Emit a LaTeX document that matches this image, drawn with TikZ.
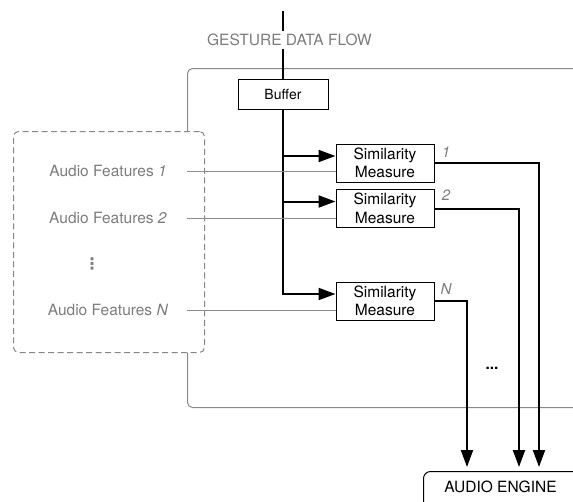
\documentclass[tikz,border=0pt]{standalone}
\usepackage{fontspec}
\setmainfont{TeX Gyre Heros}
\newfontfamily\symbolfont{DejaVu Sans}
\usetikzlibrary{arrows.meta,calc}
\pgfdeclarelayer{frame}
\pgfdeclarelayer{wires}
\pgfsetlayers{frame,wires,main}
\definecolor{labelgray}{RGB}{125,125,125}
\definecolor{framegray}{RGB}{135,135,135}
\definecolor{linegray}{RGB}{140,140,140}
\begin{document}
\begin{tikzpicture}[x=1pt,y=-1pt,
  every node/.style={font=\fontsize{15.5}{18.5}\selectfont},
  titletext/.style={text=labelgray,fill=white,inner sep=3pt},
  bufferbox/.style={draw=black,line width=1pt,fill=white,minimum width=90pt,minimum height=30pt,inner sep=1pt,font=\fontsize{14}{16}\selectfont},
  simbox/.style={draw=black,line width=1pt,fill=white,align=center,minimum width=98pt,minimum height=38pt,inner sep=1pt},
  idx/.style={text=labelgray,font=\fontsize{15}{17}\selectfont\itshape,inner sep=0pt},
  feat/.style={text=labelgray,inner sep=1pt},
  plain/.style={text=black,inner sep=1pt},
  framebox/.style={draw=framegray,line width=1pt,rounded corners=5pt,minimum width=403pt,minimum height=339pt,inner sep=0pt},
  dashbox/.style={draw=framegray,line width=1pt,dash pattern=on 6pt off 3.5pt,rounded corners=5pt,fill=white,minimum width=191pt,minimum height=221pt,inner sep=0pt},
  enginebox/.style={draw=black,line width=1pt,rounded corners=7pt,minimum width=180pt,minimum height=60pt,inner sep=0pt},
  flow/.style={draw=black,line width=2pt},
  tip/.style={-{Triangle[length=17pt,width=12pt]}},
  featline/.style={draw=linegray,line width=1pt}]
\useasboundingbox (0,0) rectangle (573,501);

% text and blocks
\node[titletext] (title) at (289.5,40) {GESTURE DATA FLOW};
\node[bufferbox] (buffer) at (283,94) {Buffer};
\node[simbox] (sm1) at (385,163) {Similarity\\Measure};
\node[simbox] (sm2) at (385,208.5) {Similarity\\Measure};
\node[simbox] (smN) at (385,301) {Similarity\\Measure};
\node[idx] (l1) at (446,152) {1};
\node[idx] (l2) at (446,195) {2};
\node[idx] (lN) at (446,289) {N};
\node[feat] (af1) at (108,171) {Audio Features \textit{1}};
\node[feat] (af2) at (108,218) {Audio Features \textit{2}};
\node[feat] (afN) at (108,310) {Audio Features \textit{N}};
\node[feat,font=\fontsize{16}{18}\selectfont\symbolfont\bfseries] (vd) at (92,264) {⋮};
\node[plain,font=\fontsize{15.5}{18.5}\selectfont\bfseries] (more) at (492,368) {...};
\node[enginebox,anchor=north west] (engine) at (423,471) {};
\node[plain] (enginelabel) at (500.5,487) {AUDIO ENGINE};

% enclosing frames
\begin{pgfonlayer}{frame}
  \node[framebox,anchor=north west] (frame) at (187,68) {};
  \node[dashbox,anchor=north west] (featbox) at (13,131) {};
\end{pgfonlayer}

% connectors
\coordinate (gtop) at (283,11);
\coordinate (j1) at ($(gtop |- sm1.west)+(0,-7)$);
\coordinate (j2) at ($(gtop |- sm2.west)+(0,-7)$);
\coordinate (jN) at ($(gtop |- smN.west)+(0,-7)$);
\coordinate (in1) at ($(engine.north west)+(116,-4)$);
\coordinate (in2) at ($(engine.north west)+(96,-4)$);
\coordinate (inN) at ($(engine.north west)+(44,-4)$);
\begin{pgfonlayer}{wires}
  \draw[flow,tip] (gtop) -- (jN) -- ($(smN.west)+(0,-7)$);
  \draw[flow,tip] (j1) -- ($(sm1.west)+(0,-7)$);
  \draw[flow,tip] (j2) -- ($(sm2.west)+(0,-7)$);
  \draw[featline] (af1 -| frame.west) -- (af1 -| sm1.west);
  \draw[featline] (af2 -| frame.west) -- (af2 -| sm2.west);
  \draw[featline] (afN -| frame.west) -- (afN -| smN.west);
  \draw[flow,tip] (sm1.east) -| (in1);
  \draw[flow,tip] (sm2.east) -| (in2);
  \draw[flow,tip] (smN.east) -| (inN);
\end{pgfonlayer}
\end{tikzpicture}
\end{document}
